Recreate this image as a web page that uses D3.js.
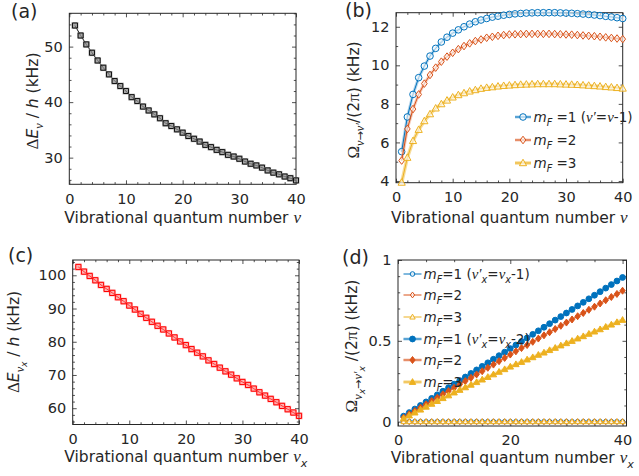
<!DOCTYPE html>
<html>
<head>
<meta charset="utf-8">
<script src="https://cdn.jsdelivr.net/npm/d3@7"></script>
<style>
  body { margin: 0; background: #fff; }
  svg text { font-family: "DejaVu Sans", sans-serif; fill: #262626; }
</style>
</head>
<body>
<svg id="fig" width="639" height="476"></svg>
<script>
// ---- data ---------------------------------------------------------------
const vibNumber = [1, 2, 3, 4, 5, 6, 7, 8, 9, 10, 11, 12, 13, 14, 15, 16, 17, 18, 19, 20,
                   21, 22, 23, 24, 25, 26, 27, 28, 29, 30, 31, 32, 33, 34, 35, 36, 37, 38, 39, 40];

// (a) level spacing ΔE_ν / h in kHz
const spacingA = [53.8, 52.0, 50.4, 48.9, 47.5, 46.2, 45.0, 43.8, 42.9, 42.0,
                  40.9, 40.2, 39.2, 38.5, 37.8, 37.1, 36.2, 35.7, 35.1, 34.5,
                  33.9, 33.4, 32.9, 32.3, 31.9, 31.4, 31.0, 30.5, 30.2, 29.8,
                  29.3, 28.9, 28.6, 28.2, 27.7, 27.3, 27.0, 26.6, 26.3, 25.9];

// (b) coupling Ω_{ν→ν'}/(2π) in kHz, ν' = ν-1
const rabiB_mF1 = [5.52, 7.32, 8.49, 9.36, 9.96, 10.48, 10.88, 11.21, 11.46, 11.67,
                   11.84, 12.00, 12.14, 12.26, 12.35, 12.43, 12.50, 12.55, 12.60, 12.64,
                   12.67, 12.69, 12.71, 12.72, 12.73, 12.73, 12.73, 12.73, 12.72, 12.71,
                   12.70, 12.68, 12.66, 12.64, 12.61, 12.58, 12.54, 12.51, 12.47, 12.43];
const rabiB_mF2 = [5.06, 6.70, 7.73, 8.49, 9.05, 9.50, 9.88, 10.19, 10.45, 10.65,
                   10.84, 11.00, 11.14, 11.26, 11.34, 11.43, 11.48, 11.53, 11.57, 11.60,
                   11.61, 11.62, 11.63, 11.63, 11.63, 11.63, 11.63, 11.62, 11.61, 11.60,
                   11.59, 11.57, 11.55, 11.53, 11.51, 11.48, 11.45, 11.42, 11.39, 11.36];
const rabiB_mF3 = [3.92, 5.21, 6.08, 6.66, 7.11, 7.47, 7.77, 7.99, 8.18, 8.34,
                   8.46, 8.56, 8.65, 8.72, 8.79, 8.84, 8.87, 8.91, 8.94, 8.96,
                   8.98, 9.00, 9.01, 9.02, 9.03, 9.03, 9.03, 9.03, 9.02, 9.01,
                   9.00, 8.99, 8.97, 8.95, 8.93, 8.91, 8.88, 8.86, 8.83, 8.80];

// (c) level spacing ΔE_{ν_x} / h in kHz
const spacingC = [102.5, 101.1, 99.8, 98.5, 97.1, 95.9, 94.7, 93.4, 92.2, 90.9,
                  89.7, 88.4, 87.2, 86.0, 84.8, 83.7, 82.5, 81.3, 80.1, 79.0,
                  77.8, 76.7, 75.6, 74.4, 73.3, 72.2, 71.1, 70.1, 69.0, 67.9,
                  67.0, 65.9, 64.8, 63.8, 62.8, 61.8, 60.7, 59.7, 58.7, 57.7];

// (d) coupling Ω_{ν_x→ν'_x}/(2π) in kHz
const rabiD_step1_mF1 = [0, 0, 0, 0, 0, 0, 0, 0, 0, 0, 0, 0, 0, 0, 0, 0, 0, 0, 0, 0,
                         0, 0, 0, 0, 0, 0, 0, 0, 0, 0, 0, 0, 0, 0, 0, 0, 0, 0, 0, 0];
const rabiD_step1_mF2 = [0, 0, 0, 0, 0, 0, 0, 0, 0, 0, 0, 0, 0, 0, 0, 0, 0, 0, 0, 0,
                         0, 0, 0, 0, 0, 0, 0, 0, 0, 0, 0, 0, 0, 0, 0, 0, 0, 0, 0, 0];
const rabiD_step1_mF3 = [0, 0, 0, 0, 0, 0, 0, 0, 0, 0, 0, 0, 0, 0, 0, 0, 0, 0, 0, 0,
                         0, 0, 0, 0, 0, 0, 0, 0, 0, 0, 0, 0, 0, 0, 0, 0, 0, 0, 0, 0];
const rabiD_step2_mF1 = [0.034, 0.056, 0.078, 0.100, 0.122, 0.144, 0.166, 0.188, 0.210, 0.232,
                         0.254, 0.276, 0.298, 0.320, 0.342, 0.364, 0.386, 0.408, 0.430, 0.452,
                         0.474, 0.496, 0.518, 0.540, 0.562, 0.584, 0.606, 0.628, 0.650, 0.672,
                         0.694, 0.716, 0.738, 0.760, 0.782, 0.804, 0.826, 0.848, 0.870, 0.892];
const rabiD_step2_mF2 = [0.025, 0.046, 0.066, 0.087, 0.107, 0.128, 0.148, 0.169, 0.189, 0.210,
                         0.230, 0.251, 0.271, 0.292, 0.312, 0.333, 0.353, 0.374, 0.394, 0.415,
                         0.435, 0.455, 0.474, 0.494, 0.514, 0.534, 0.553, 0.573, 0.593, 0.613,
                         0.632, 0.652, 0.672, 0.692, 0.711, 0.731, 0.751, 0.771, 0.790, 0.810];
const rabiD_step2_mF3 = [0.020, 0.038, 0.056, 0.074, 0.092, 0.110, 0.127, 0.145, 0.162, 0.180,
                         0.196, 0.212, 0.228, 0.244, 0.260, 0.276, 0.292, 0.308, 0.324, 0.340,
                         0.355, 0.369, 0.384, 0.398, 0.413, 0.427, 0.442, 0.456, 0.471, 0.485,
                         0.499, 0.514, 0.528, 0.543, 0.557, 0.571, 0.586, 0.600, 0.615, 0.629];

// tick labels
const xTicksABC = [0, 10, 20, 30, 40];
const xTicksD = [0, 20, 40];
const yTicksA = [30, 40, 50];
const yTicksB = [4, 6, 8, 10, 12];
const yTicksC = [60, 70, 80, 90, 100];
const yTicksD = [0, 0.5, 1];

// ---- drawing helpers ------------------------------------------------------
const svg = d3.select("#fig");
const INK = "#262626";
const BLUE = "#0072BD", ORANGE = "#D95319", YELLOW = "#EDB120";
const GREEK = "'Liberation Serif', 'DejaVu Serif', serif";
const TICK_FONT = 14.5, LABEL_FONT = 15.5;

const markerPath = {
  circle: r => `M${r},0A${r},${r} 0 1,1 ${-r},0A${r},${r} 0 1,1 ${r},0Z`,
  square: s => `M${-s},${-s}H${s}V${s}H${-s}Z`,
  diamond: s => `M0,${-s}L${s * 0.75},0L0,${s}L${-s * 0.75},0Z`,
  triangle: s => `M0,${-s * 1.05}L${s},${s * 0.75}L${-s},${s * 0.75}Z`
};

// rich text from segments: {t, lv (0 base, 1 sub, 2 sub-sub), greek, it}
function richText(textSel, segs, size) {
  const offs = [0, 0.3 * size, 0.3 * size + 0.2 * size];
  const sizes = [size, 0.72 * size, 0.58 * size];
  let level = 0;
  segs.forEach(s => {
    const lv = s.lv || 0;
    const ts = textSel.append("tspan").text(s.t)
      .attr("font-size", (s.greek ? 1.1 : 1) * sizes[lv]);
    const dy = offs[lv] - offs[level];
    if (dy !== 0) ts.attr("dy", dy);
    if (s.greek) ts.attr("font-family", GREEK);
    if (s.it) ts.attr("font-style", "italic");
    level = lv;
  });
}

function drawFrame(p) {
  const g = svg.append("g");
  const x = d3.scaleLinear().domain(p.xDomain).range([p.left, p.right]);
  const y = d3.scaleLinear().domain(p.yDomain).range([p.bottom, p.top]);
  const major = 4, minor = 2.2;

  function axis(gen, tx, ty, values, size, labels, pad) {
    const a = g.append("g").attr("transform", `translate(${tx},${ty})`)
      .call(gen.tickValues(values).tickSize(-size).tickPadding(pad || 0)
        .tickFormat(labels ? (d => String(d)) : ""));
    a.select(".domain").remove();
    a.attr("font-family", null).attr("font-size", TICK_FONT).attr("color", INK);
    a.selectAll("line").attr("stroke-width", 0.8);
    return a;
  }
  const xMinor = d3.range(p.xDomain[0], p.xDomain[1] + 1e-9, p.xMinorStep)
    .filter(v => !p.xTicks.includes(v));
  const yStart = Math.ceil(p.yDomain[0] / p.yMinorStep) * p.yMinorStep;
  const yMinor = d3.range(yStart, p.yDomain[1] + 1e-9, p.yMinorStep)
    .map(v => +v.toFixed(4)).filter(v => !p.yTicks.includes(v));

  axis(d3.axisBottom(x), 0, p.bottom, p.xTicks, major, true, 9);
  axis(d3.axisBottom(x), 0, p.bottom, xMinor, minor, false);
  axis(d3.axisTop(x), 0, p.top, p.xTicks, major, false);
  axis(d3.axisTop(x), 0, p.top, xMinor, minor, false);
  axis(d3.axisLeft(y), p.left, 0, p.yTicks, major, true, 6.5);
  axis(d3.axisLeft(y), p.left, 0, yMinor, minor, false);
  axis(d3.axisRight(y), p.right, 0, p.yTicks, major, false);
  axis(d3.axisRight(y), p.right, 0, yMinor, minor, false);

  g.append("rect")
    .attr("x", p.left).attr("y", p.top)
    .attr("width", p.right - p.left).attr("height", p.bottom - p.top)
    .attr("fill", "none").attr("stroke", INK).attr("stroke-width", 1);

  // panel tag
  svg.append("text").attr("x", p.tag[1]).attr("y", p.tag[2])
    .attr("font-size", 19).text(p.tag[0]);

  // x label
  const xl = svg.append("text").attr("x", (p.left + p.right) / 2).attr("y", p.xLabelY)
    .attr("text-anchor", "middle");
  richText(xl, p.xLabel, LABEL_FONT);

  // y label
  const yl = svg.append("text")
    .attr("transform", `translate(${p.yLabelX},${p.yLabelY}) rotate(-90)`)
    .attr("text-anchor", "middle");
  richText(yl, p.yLabel, LABEL_FONT);

  return { g, x, y };
}

function drawSeries(ctx, xs, ys, st) {
  const line = d3.line().x((d, i) => ctx.x(xs[i])).y(d => ctx.y(d));
  if (st.halo) {
    ctx.g.append("path").datum(ys).attr("d", line).attr("fill", "none")
      .attr("stroke", st.halo).attr("stroke-width", st.haloWidth || 3)
      .attr("stroke-opacity", st.haloOpacity || 0.35);
  }
  ctx.g.append("path").datum(ys).attr("d", line).attr("fill", "none")
    .attr("stroke", st.color).attr("stroke-width", st.lineWidth || 1);
  const m = ctx.g.append("g");
  ys.forEach((v, i) => {
    const cx = ctx.x(xs[i]), cy = ctx.y(v);
    if (st.backFill) {
      m.append("path").attr("d", markerPath[st.shape](st.size + 0.9))
        .attr("transform", `translate(${cx},${cy})`)
        .attr("fill", st.backFill).attr("fill-opacity", st.backOpacity || 0.5);
    }
    m.append("path").attr("d", markerPath[st.shape](st.size))
      .attr("transform", `translate(${cx},${cy})`)
      .attr("fill", st.fill || "none").attr("fill-opacity", st.fillOpacity == null ? 1 : st.fillOpacity)
      .attr("stroke", st.color).attr("stroke-width", st.markerStroke || 1);
  });
}

function legendEntry(x0, x1, yc, textX, st, segs, size) {
  const lg = svg.append("g");
  if (st.halo) {
    lg.append("line").attr("x1", x0).attr("x2", x1).attr("y1", yc).attr("y2", yc)
      .attr("stroke", st.halo).attr("stroke-width", st.haloWidth || 3)
      .attr("stroke-opacity", st.haloOpacity || 0.35);
  }
  lg.append("line").attr("x1", x0).attr("x2", x1).attr("y1", yc).attr("y2", yc)
    .attr("stroke", st.color).attr("stroke-width", st.lineWidth || 1);
  lg.append("path").attr("d", markerPath[st.shape](st.legendSize || st.size))
    .attr("transform", `translate(${(x0 + x1) / 2},${yc})`)
    .attr("fill", st.fill || "none").attr("fill-opacity", st.fillOpacity == null ? 1 : st.fillOpacity)
    .attr("stroke", st.color).attr("stroke-width", st.markerStroke || 1);
  const t = lg.append("text").attr("x", textX).attr("y", yc + size * 0.36);
  richText(t, segs, size);
}

const nuSym = { t: "ν", greek: true, it: true };
const vibLabel = [{ t: "Vibrational quantum number " }, nuSym];
const vibLabelX = [{ t: "Vibrational quantum number " }, nuSym,
                   { t: "x", it: true, lv: 1 }];

// ---- (a) --------------------------------------------------------------------
const pa = drawFrame({
  left: 69.3, right: 296, top: 13.3, bottom: 184.3,
  xDomain: [0, 40], yDomain: [25.2, 56],
  xTicks: xTicksABC, yTicks: yTicksA, xMinorStep: 2, yMinorStep: 2,
  tag: ["(a)", 11, 18], xLabelY: 223,
  xLabel: vibLabel, yLabelX: 38, yLabelY: 101,
  yLabel: [{ t: "Δ", greek: true }, { t: "E", it: true }, { t: "ν", greek: true, it: true, lv: 1 },
           { t: " / " }, { t: "h", it: true }, { t: " (kHz)" }]
});
drawSeries(pa, vibNumber, spacingA, {
  shape: "square", size: 2.5, color: "#111", fill: "none",
  backFill: "#8a8a8a", backOpacity: 0.75
});

// ---- (b) --------------------------------------------------------------------
const pb = drawFrame({
  left: 396, right: 622.7, top: 12.7, bottom: 182.7,
  xDomain: [0, 40], yDomain: [3.91, 12.73],
  xTicks: xTicksABC, yTicks: yTicksB, xMinorStep: 2, yMinorStep: 1,
  tag: ["(b)", 345, 17], xLabelY: 223,
  xLabel: vibLabel, yLabelX: 359, yLabelY: 100,
  yLabel: [{ t: "Ω", greek: true }, { t: "ν", greek: true, it: true, lv: 1 }, { t: "→", lv: 1 },
           { t: "ν′", greek: true, it: true, lv: 1 }, { t: "/(2" }, { t: "π", greek: true },
           { t: ") (kHz)" }]
});
const styleB = [
  { shape: "circle", size: 3.3, color: BLUE, fill: "#fff", fillOpacity: 0.6, halo: BLUE, haloWidth: 3, haloOpacity: 0.3 },
  { shape: "diamond", size: 3.8, color: ORANGE, fill: "#fff", fillOpacity: 0.6, halo: ORANGE, haloWidth: 3, haloOpacity: 0.3 },
  { shape: "triangle", size: 3.6, color: YELLOW, fill: "#fff", fillOpacity: 0.6, halo: YELLOW, haloWidth: 3.5, haloOpacity: 0.45 }
];
drawSeries(pb, vibNumber, rabiB_mF1, styleB[0]);
drawSeries(pb, vibNumber, rabiB_mF2, styleB[1]);
drawSeries(pb, vibNumber, rabiB_mF3, styleB[2]);

const mF = n => [{ t: "m", it: true }, { t: "F", it: true, lv: 1 }, { t: " =" + n, lv: 0 }];
legendEntry(515, 531, 117, 533.5, styleB[0],
  mF(1).concat([{ t: " (" }, { t: "ν′", greek: true, it: true }, { t: "=" },
                { t: "ν", greek: true, it: true }, { t: "-1)" }]), 13.5);
legendEntry(515, 531, 140, 533.5, styleB[1], mF(2), 13.5);
legendEntry(515, 531, 163, 533.5, styleB[2], mF(3), 13.5);

// ---- (c) --------------------------------------------------------------------
const pc = drawFrame({
  left: 72.7, right: 299, top: 260, bottom: 424.5,
  xDomain: [0, 40], yDomain: [55.1, 104.6],
  xTicks: xTicksABC, yTicks: yTicksC, xMinorStep: 2, yMinorStep: 2,
  tag: ["(c)", 8, 262], xLabelY: 462,
  xLabel: vibLabelX, yLabelX: 19, yLabelY: 342,
  yLabel: [{ t: "Δ", greek: true }, { t: "E", it: true }, { t: "ν", greek: true, it: true, lv: 1 },
           { t: "x", it: true, lv: 2 }, { t: " / ", lv: 0 }, { t: "h", it: true },
           { t: " (kHz)" }]
});
drawSeries(pc, vibNumber, spacingC, {
  shape: "square", size: 2.6, color: "#ff0000", fill: "none",
  backFill: "#ff6b6b", backOpacity: 0.55
});

// ---- (d) --------------------------------------------------------------------
const pd = drawFrame({
  left: 398, right: 626.5, top: 260, bottom: 426,
  xDomain: [0, 40.7], yDomain: [-0.027, 1],
  xTicks: xTicksD, yTicks: yTicksD, xMinorStep: 5, yMinorStep: 0.1,
  tag: ["(d)", 342, 264], xLabelY: 463,
  xLabel: vibLabelX, yLabelX: 357, yLabelY: 346,
  yLabel: [{ t: "Ω", greek: true }, { t: "ν", greek: true, it: true, lv: 1 }, { t: "x", it: true, lv: 2 },
           { t: "→", lv: 1 }, { t: "ν′", greek: true, it: true, lv: 1 }, { t: "x", it: true, lv: 2 },
           { t: " /(2", lv: 0 }, { t: "π", greek: true }, { t: ") (kHz)" }]
});
const styleD = [
  { shape: "circle", size: 2.3, color: BLUE, fill: "#fff", fillOpacity: 0.7, legendSize: 2.3 },
  { shape: "diamond", size: 2.9, color: ORANGE, fill: "#fff", fillOpacity: 0.7 },
  { shape: "triangle", size: 2.7, color: YELLOW, fill: "#fff", fillOpacity: 0.7 },
  { shape: "circle", size: 2.9, color: BLUE, fill: BLUE, halo: BLUE, haloWidth: 3, haloOpacity: 0.3 },
  { shape: "diamond", size: 3.5, color: ORANGE, fill: ORANGE, halo: ORANGE, haloWidth: 3, haloOpacity: 0.3 },
  { shape: "triangle", size: 3.2, color: YELLOW, fill: YELLOW, halo: YELLOW, haloWidth: 3.5, haloOpacity: 0.4 }
];
drawSeries(pd, vibNumber, rabiD_step1_mF1, styleD[0]);
drawSeries(pd, vibNumber, rabiD_step1_mF2, styleD[1]);
drawSeries(pd, vibNumber, rabiD_step1_mF3, styleD[2]);
drawSeries(pd, vibNumber, rabiD_step2_mF1, styleD[3]);
drawSeries(pd, vibNumber, rabiD_step2_mF2, styleD[4]);
drawSeries(pd, vibNumber, rabiD_step2_mF3, styleD[5]);

const mFd = n => [{ t: "m", it: true }, { t: "F", it: true, lv: 1 }, { t: "=" + n, lv: 0 }];
const transition = k => [{ t: " (" }, { t: "ν′", greek: true, it: true }, { t: "x", it: true, lv: 1 },
  { t: "=", lv: 0 }, { t: "ν", greek: true, it: true }, { t: "x", it: true, lv: 1 }, { t: "-" + k + ")", lv: 0 }];
const legendRowsD = [274, 295, 317, 339, 360, 382];
const FD = 13.5;
legendEntry(403.5, 421.5, legendRowsD[0], 423.5, styleD[0], mFd(1).concat(transition(1)), FD);
legendEntry(403.5, 421.5, legendRowsD[1], 423.5, styleD[1], mFd(2), FD);
legendEntry(403.5, 421.5, legendRowsD[2], 423.5, styleD[2], mFd(3), FD);
legendEntry(403.5, 421.5, legendRowsD[3], 423.5, styleD[3], mFd(1).concat(transition(2)), FD);
legendEntry(403.5, 421.5, legendRowsD[4], 423.5, styleD[4], mFd(2), FD);
legendEntry(403.5, 421.5, legendRowsD[5], 423.5, styleD[5], mFd(3), FD);
</script>
</body>
</html>
